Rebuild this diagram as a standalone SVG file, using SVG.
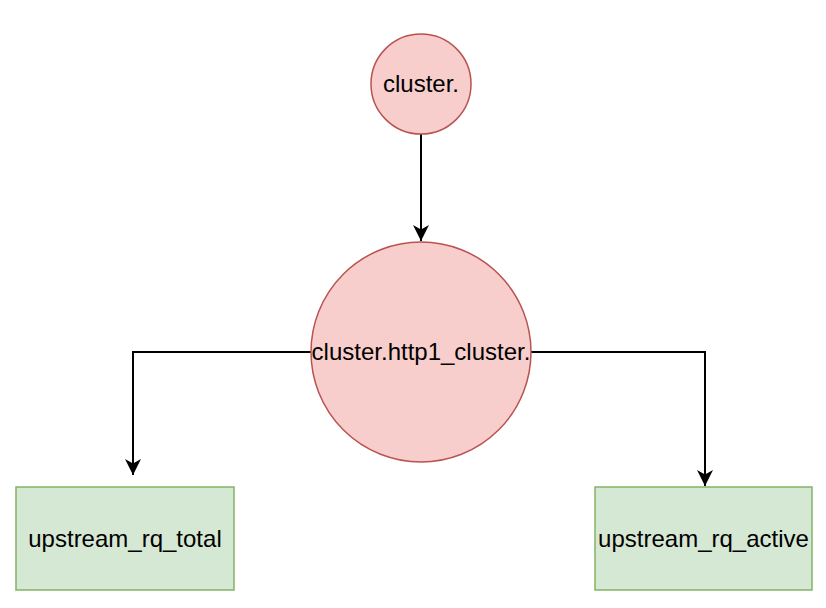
<svg xmlns="http://www.w3.org/2000/svg" width="826" height="608" viewBox="0 0 826 608">
<style>
.pink{fill:#f8cecc;stroke:#b85450;stroke-width:1.5}
.green{fill:#d5e8d4;stroke:#82b366;stroke-width:1.5}
.lbl{font-family:"Liberation Sans",Arial,sans-serif;font-size:24px;fill:#000;text-anchor:middle}
.edge{fill:none;stroke:#000;stroke-width:2}
</style>
<defs>
<marker id="arr" markerUnits="userSpaceOnUse" markerWidth="18" markerHeight="16" refX="16" refY="8" orient="auto">
<path d="M0,0 L16,8 L0,16 L4.5,8 Z" fill="#000"/>
</marker>
</defs>
<rect width="826" height="608" fill="#fff"/>
<g id="connectors">
<path class="edge" d="M421,134 L421,241" marker-end="url(#arr)"/>
<path class="edge" d="M311,352 L133,352 L133,475" marker-end="url(#arr)"/>
<path class="edge" d="M531,352 L705,352 L705,486" marker-end="url(#arr)"/>
</g>
<g id="node-cluster">
<circle class="pink" cx="421" cy="84" r="50"/>
<text class="lbl" x="421" y="92">cluster.</text>
</g>
<g id="node-http1-cluster">
<circle class="pink" cx="421" cy="352" r="110"/>
<text class="lbl" x="421" y="360">cluster.http1_cluster.</text>
</g>
<g id="node-rq-total">
<rect class="green" x="16" y="487" width="218" height="103"/>
<text class="lbl" x="125" y="547">upstream_rq_total</text>
</g>
<g id="node-rq-active">
<rect class="green" x="595" y="487" width="217" height="103"/>
<text class="lbl" x="703.5" y="547">upstream_rq_active</text>
</g>
</svg>
